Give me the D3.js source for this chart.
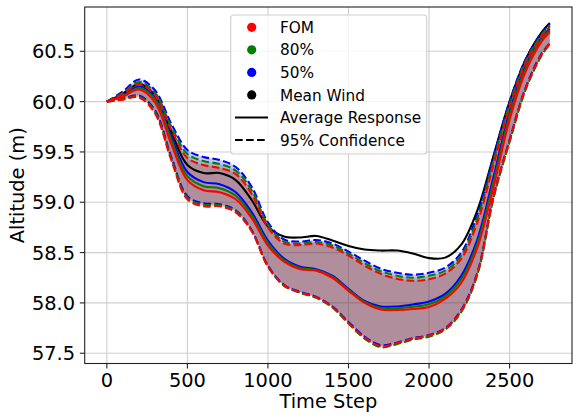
<!DOCTYPE html>
<html><head><meta charset="utf-8">
<script src="https://cdn.jsdelivr.net/npm/d3@7"></script>
<style>body{margin:0;background:#fff;} svg{display:block;} text{font-family:"DejaVu Sans",sans-serif;}</style>
</head><body><svg id="chart" width="573" height="420"></svg>
<script>
const timeSteps = [0,100,200,300,400,500,600,700,800,900,1000,1100,1200,1300,1400,1500,1600,1700,1800,1900,2000,2100,2200,2300,2400,2500,2600,2700,2750];
const meanWind = [60.00,60.08,60.175,60.06,59.70,59.37,59.29,59.29,59.22,59.02,58.76,58.66,58.65,58.665,58.62,58.565,58.53,58.52,58.52,58.49,58.445,58.45,58.58,58.92,59.46,60.0,60.42,60.69,60.78];
const fomMean = [60.00,60.05,60.12,59.99,59.58,59.22,59.12,59.10,59.03,58.84,58.57,58.41,58.335,58.32,58.25,58.12,58.0,57.935,57.93,57.94,57.96,58.04,58.2,58.55,59.15,59.82,60.3,60.6,60.69];
const p80Mean = [60.00,60.055,60.135,60.02,59.62,59.26,59.16,59.14,59.065,58.87,58.595,58.425,58.348,58.328,58.26,58.13,58.01,57.95,57.948,57.962,57.987,58.065,58.235,58.59,59.2,59.86,60.33,60.62,60.705];
const p50Mean = [60.00,60.06,60.15,60.04,59.65,59.30,59.2,59.18,59.1,58.9,58.62,58.44,58.36,58.335,58.27,58.14,58.02,57.965,57.965,57.985,58.015,58.09,58.27,58.63,59.25,59.9,60.36,60.64,60.72];
const p50Upper = [60.00,60.10,60.22,60.11,59.78,59.52,59.45,59.42,59.35,59.15,58.80,58.63,58.61,58.625,58.59,58.51,58.42,58.34,58.30,58.28,58.30,58.35,58.50,58.88,59.45,60.0,60.42,60.68,60.77];
const p80Upper = [60.00,60.085,60.195,60.085,59.75,59.48,59.41,59.38,59.315,59.115,58.775,58.61,58.59,58.605,58.57,58.49,58.395,58.315,58.27,58.25,58.27,58.32,58.47,58.84,59.41,59.97,60.4,60.665,60.755];
const fomUpper = [60.00,60.075,60.175,60.06,59.72,59.44,59.37,59.34,59.28,59.08,58.75,58.59,58.575,58.59,58.55,58.47,58.37,58.29,58.24,58.22,58.235,58.29,58.44,58.80,59.37,59.94,60.38,60.65,60.745];
const p50Lower = [60.00,60.03,60.06,59.91,59.45,59.06,58.99,58.98,58.92,58.72,58.37,58.18,58.11,58.06,57.965,57.81,57.665,57.58,57.605,57.65,57.68,57.75,57.93,58.3,59.06,59.62,60.14,60.48,60.58];
const p80Lower = [60.00,60.025,60.05,59.895,59.435,59.045,58.975,58.97,58.91,58.715,58.365,58.17,58.1,58.05,57.955,57.795,57.645,57.56,57.59,57.635,57.665,57.735,57.91,58.28,59.04,59.6,60.12,60.46,60.57];
const fomLower = [60.00,60.02,60.04,59.88,59.42,59.03,58.96,58.96,58.90,58.71,58.36,58.175,58.105,58.055,57.96,57.80,57.655,57.57,57.6,57.645,57.675,57.745,57.92,58.29,59.05,59.61,60.13,60.47,60.575];
const xTicks = [0,500,1000,1500,2000,2500];
const yTicks = [57.5,58.0,58.5,59.0,59.5,60.0,60.5];
const legendLabels = ["FOM","80%","50%","Mean Wind","Average Response","95% Confidence"];

const svg = d3.select("#chart");
const L=84.7, R=572, T=7, B=363.5;
const x = d3.scaleLinear().domain([-137.5,2887.5]).range([L,R]);
const y = d3.scaleLinear().domain([57.398,60.94]).range([B,T]);

// grid
const g = svg.append("g");
g.selectAll(".gx").data(xTicks).join("line").attr("x1",d=>x(d)).attr("x2",d=>x(d)).attr("y1",T).attr("y2",B).attr("stroke","#cfcfcf").attr("stroke-width",1.1);
g.selectAll(".gy").data(yTicks).join("line").attr("y1",d=>y(d)).attr("y2",d=>y(d)).attr("x1",L).attr("x2",R).attr("stroke","#cfcfcf").attr("stroke-width",1.1);

const curve = d3.curveCatmullRom.alpha(0.5);
const models = [
  {name:"50%", color:"#0000ff", mean:p50Mean, lo:p50Lower, hi:p50Upper},
  {name:"80%", color:"#008000", mean:p80Mean, lo:p80Lower, hi:p80Upper},
  {name:"FOM", color:"#ff0000", mean:fomMean, lo:fomLower, hi:fomUpper}
];
const plot = svg.append("g");
models.forEach(m=>{
  const area = d3.area().x((d,i)=>x(timeSteps[i])).y0((d,i)=>y(m.lo[i])).y1((d,i)=>y(m.hi[i])).curve(curve);
  plot.append("path").attr("d",area(timeSteps)).attr("fill",m.color).attr("fill-opacity",0.22).attr("stroke","none");
});
const line = arr => d3.line().x((d,i)=>x(timeSteps[i])).y((d,i)=>y(arr[i])).curve(curve)(timeSteps);
plot.append("path").attr("d",line(meanWind)).attr("fill","none").attr("stroke","#000").attr("stroke-width",2.1);
models.forEach(m=>{
  plot.append("path").attr("d",line(m.mean)).attr("fill","none").attr("stroke",m.color).attr("stroke-width",2.1);
  plot.append("path").attr("d",line(m.lo)).attr("fill","none").attr("stroke",m.color).attr("stroke-width",2.1).attr("stroke-dasharray","7.7,3.3");
  plot.append("path").attr("d",line(m.hi)).attr("fill","none").attr("stroke",m.color).attr("stroke-width",2.1).attr("stroke-dasharray","7.7,3.3");
});

// spines
svg.append("rect").attr("x",L).attr("y",T).attr("width",R-L).attr("height",B-T).attr("fill","none").attr("stroke","#222").attr("stroke-width",1.1);

// ticks
const ax = svg.append("g");
ax.selectAll(".tx").data(xTicks).join("line").attr("x1",d=>x(d)).attr("x2",d=>x(d)).attr("y1",B).attr("y2",B+4.9).attr("stroke","#222").attr("stroke-width",1.1);
ax.selectAll(".lx").data(xTicks).join("text").attr("x",d=>x(d)).attr("y",387.3).attr("text-anchor","middle").attr("font-size","19.4px").attr("fill","#000").text(d=>d);
ax.selectAll(".ty").data(yTicks).join("line").attr("y1",d=>y(d)).attr("y2",d=>y(d)).attr("x1",L-4.9).attr("x2",L).attr("stroke","#222").attr("stroke-width",1.1);
ax.selectAll(".ly").data(yTicks).join("text").attr("x",L-9.6).attr("y",d=>y(d)+7).attr("text-anchor","end").attr("font-size","19.4px").attr("fill","#000").text(d=>d3.format(".1f")(d));
svg.append("text").attr("x",(L+R)/2).attr("y",408.3).attr("text-anchor","middle").attr("font-size","19.4px").text("Time Step");
svg.append("text").attr("transform",`translate(23.5,${(T+B)/2}) rotate(-90)`).attr("text-anchor","middle").attr("font-size","19.4px").text("Altitude (m)");

// legend
const lg = svg.append("g");
lg.append("rect").attr("x",230.7).attr("y",15).attr("width",196).attr("height",139).attr("rx",3).attr("fill","#fff").attr("fill-opacity",0.8).attr("stroke","#d0d0d0").attr("stroke-width",1.1);
const legendColors = ["#ff0000","#008000","#0000ff","#000000"];
const rowY = i => 27.3 + i*22.55;
legendColors.forEach((c,i)=>{
  lg.append("circle").attr("cx",251.7).attr("cy",rowY(i)).attr("r",4.6).attr("fill",c);
});
lg.append("line").attr("x1",235).attr("x2",268).attr("y1",rowY(4)).attr("y2",rowY(4)).attr("stroke","#000").attr("stroke-width",2.1);
lg.append("line").attr("x1",235).attr("x2",268).attr("y1",rowY(5)).attr("y2",rowY(5)).attr("stroke","#000").attr("stroke-width",2.1).attr("stroke-dasharray","7.7,3.3");
legendLabels.forEach((t,i)=>{
  lg.append("text").attr("x",280).attr("y",rowY(i)+5.6).attr("font-size","15.3px").attr("fill","#000").text(t);
});
</script></body></html>
